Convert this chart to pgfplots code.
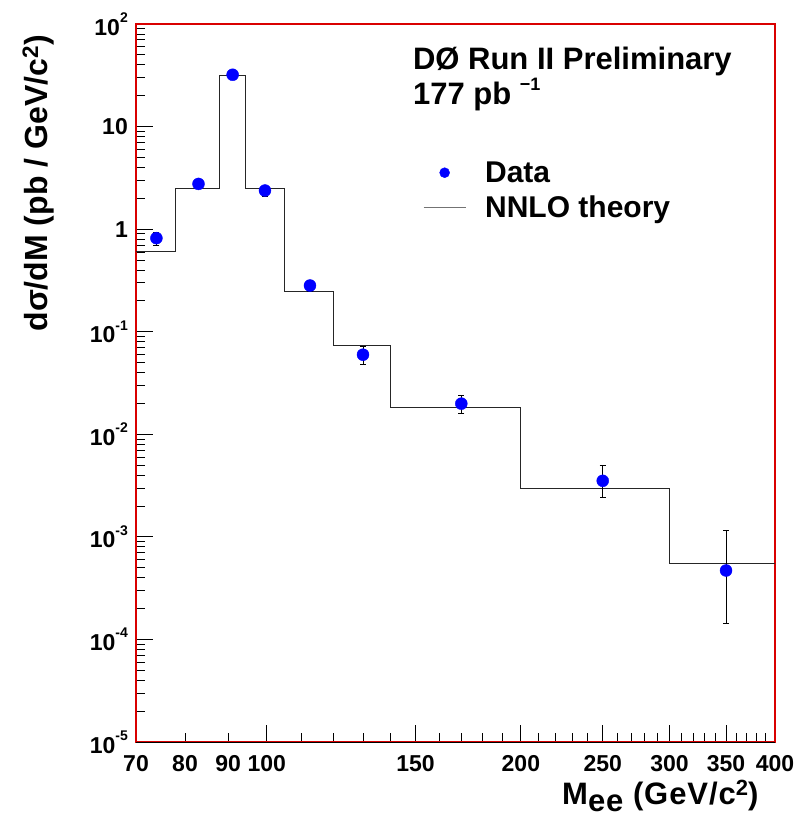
\documentclass[border=0pt]{standalone}
\usepackage{fontspec}
\setmainfont{Liberation Sans}
\usepackage{pgfplots}
\pgfplotsset{compat=1.18}
\newcommand{\ex}[1]{10\raisebox{0.55em}{\fontsize{14}{14}\selectfont\bfseries #1}}
\definecolor{pblue}{rgb}{0,0,1}
\begin{document}
\begin{tikzpicture}
\path[use as bounding box] (-136pt,-78pt) rectangle (671pt,742pt);
\begin{axis}[
  at={(0pt,0pt)}, anchor=south west,
  scale only axis, width=639pt, height=718pt,
  xmode=log, ymode=log,
  xmin=70, xmax=400, ymin=1e-5, ymax=1e2,
  clip=false,
  xtick={100,150,200,250,300,350,400},
  xticklabels={100,150,200,250,300,350,400},
  minor xtick={80,90,110,120,130,140,160,170,180,190,210,220,230,240,260,270,280,290,310,320,330,340,360,370,380,390},
  ytick={1e-5,1e-4,1e-3,1e-2,1e-1,1,10,100},
  yticklabels={\ex{-5},\ex{-4},\ex{-3},\ex{-2},\ex{-1},1\hspace{8pt},10\hspace{8pt},\ex{2}},
  minor ytick={2e-5,3e-5,4e-5,5e-5,6e-5,7e-5,8e-5,9e-5,
               2e-4,3e-4,4e-4,5e-4,6e-4,7e-4,8e-4,9e-4,
               2e-3,3e-3,4e-3,5e-3,6e-3,7e-3,8e-3,9e-3,
               2e-2,3e-2,4e-2,5e-2,6e-2,7e-2,8e-2,9e-2,
               0.2,0.3,0.4,0.5,0.6,0.7,0.8,0.9,
               2,3,4,5,6,7,8,9,
               20,30,40,50,60,70,80,90},
  tick align=inside, tick pos=left,
  major tick length=17pt, minor tick length=9pt,
  tick style={black, line width=0.8pt},
  axis line style={draw=red!85!black, line width=1.2pt},
  ticklabel style={font=\fontsize{23}{23}\selectfont\bfseries},
  yticklabel style={anchor=east, inner sep=0pt, xshift=-8pt},
  xticklabel style={anchor=north, inner sep=0pt, yshift=-13pt},
  xlabel={M\raisebox{-0.2em}{ee} (GeV/c\raisebox{0.3em}{\fontsize{22}{22}\selectfont 2})},
  xlabel style={at={(axis description cs:0.6667,-0.0877)}, anchor=base west, inner sep=0pt, font=\fontsize{31}{31}\selectfont\bfseries\addfontfeature{LetterSpace=3}},
  ylabel={dσ/dM (pb / GeV/c\textsuperscript{2})},
  ylabel style={at={(axis description cs:-0.153,0.778)}, anchor=center, font=\fontsize{32}{32}\selectfont\bfseries},
  legend style={at={(rel axis cs:0.449,0.808)}, anchor=north west, draw=none, fill=none,
    font=\fontsize{30}{30}\selectfont\bfseries, inner sep=0pt, column sep=19pt, row sep=12pt,
    nodes={inner sep=0pt, anchor=base west}},
  legend cell align=left,
  reverse legend,
]
\addplot[const plot, black!85, line width=1pt,
  legend image code/.code={\draw[black!55, line width=1pt] (0pt,10pt)--(42pt,10pt);}]
  coordinates {(70,0.61) (78,2.47) (88,31.6) (94.3,2.47) (105,0.247) (120,0.073) (140,0.0181) (200,0.00298) (300,0.00055) (400,0.00055)};
\addlegendentry{NNLO theory}
\addplot[only marks, mark=*, mark size=6pt, color=pblue,
  legend image code/.code={\fill[pblue] (21pt,10pt) circle (5pt);},
  error bars/.cd, y dir=both, y explicit,
  error bar style={black, line width=0.8pt},
  error mark options={rotate=90, mark size=3pt, black, line width=0.8pt}]
  coordinates {
  (74,0.817) += (0,0.118) -= (0,0.117)
  (83,2.76) += (0,0.19) -= (0,0.18)
  (91.1,32) += (0,1.0) -= (0,1.0)
  (99.5,2.38) += (0,0.15) -= (0,0.3)
  (112.5,0.282) += (0,0.034) -= (0,0.035)
  (130,0.0597) += (0,0.0123) -= (0,0.012)
  (170,0.0199) += (0,0.0041) -= (0,0.004)
  (250,0.00352) += (0,0.00144) -= (0,0.0011)
  (350,0.00047) += (0,0.00068) -= (0,0.000326)
  };
\addlegendentry{Data}
\draw[black, line width=0.8pt] (rel axis cs:0,0) -- (rel axis cs:1,0);
\node[anchor=north, inner sep=0pt, yshift=-13pt, font=\fontsize{23}{23}\selectfont\bfseries] at (axis cs:70,1e-5) {70};
\node[anchor=north, inner sep=0pt, yshift=-13pt, font=\fontsize{23}{23}\selectfont\bfseries] at (axis cs:80,1e-5) {80};
\node[anchor=north, inner sep=0pt, yshift=-13pt, font=\fontsize{23}{23}\selectfont\bfseries] at (axis cs:90,1e-5) {90};
\node[anchor=base west, font=\fontsize{31}{31}\selectfont\bfseries] at (rel axis cs:0.428,0.936) {DØ Run II Preliminary};
\node[anchor=base west, font=\fontsize{31}{31}\selectfont\bfseries] at (rel axis cs:0.428,0.888) {177 pb \raisebox{0.45em}{\fontsize{18}{18}\selectfont −1}};
\end{axis}
\end{tikzpicture}
\end{document}
